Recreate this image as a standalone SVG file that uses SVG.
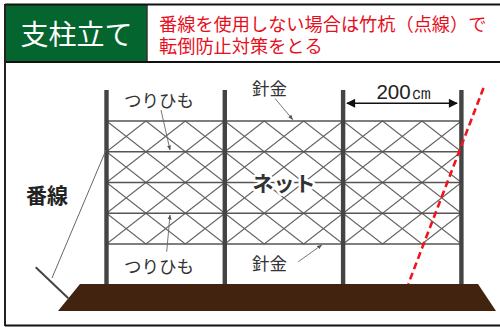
<svg xmlns="http://www.w3.org/2000/svg" width="500" height="327" viewBox="0 0 500 327">
  <style>
    .jp { font-family: "Noto Sans CJK JP", "Noto Sans", sans-serif; }
    .lbl { font-size: 17.5px; fill: #333; }
    .post { fill: #444; }
    .wire { stroke: #555; stroke-width: 1.3; fill: none; }
    .diag { stroke: #666; stroke-width: 1.1; fill: none; }
    .lead { stroke: #666; stroke-width: 0.9; fill: none; marker-end: url(#tip); }
  </style>
  <defs>
    <marker id="tip" viewBox="0 0 10 10" refX="9" refY="5" markerWidth="5" markerHeight="5" orient="auto" markerUnits="userSpaceOnUse">
      <path d="M0,1 L10,5 L0,9 z" fill="#555"/>
    </marker>
    <marker id="dimHead" viewBox="0 0 10 10" refX="9" refY="5" markerWidth="10" markerHeight="9" orient="auto-start-reverse" markerUnits="userSpaceOnUse">
      <path d="M0,0 L10,5 L0,10 z" fill="#111"/>
    </marker>
    <!-- one bay of netting: diamond mesh between two posts -->
    <path id="mesh" class="diag" d="M0,0 L118.3,92.25 M0,30.75 L118.3,123 M0,61.5 L78.87,123 M0,92.25 L39.43,123 M39.43,0 L118.3,61.5 M78.87,0 L118.3,30.75 M118.3,0 L0,92.25 M118.3,30.75 L0,123 M118.3,61.5 L39.43,123 M118.3,92.25 L78.87,123 M78.87,0 L0,61.5 M39.43,0 L0,30.75"/>
  </defs>

  <rect x="0" y="0" width="500" height="327" fill="#fff"/>

  <!-- outer frame and header -->
  <g id="header">
    <rect x="6" y="5" width="141" height="57" fill="#05652f"/>
    <line x1="147" y1="5" x2="147" y2="62" stroke="#333" stroke-width="1.5"/>
    <line x1="5" y1="4.5" x2="500" y2="4.5" stroke="#111" stroke-width="2"/>
    <line x1="5" y1="62" x2="500" y2="62" stroke="#111" stroke-width="2"/>
    <line x1="5" y1="4" x2="5" y2="326" stroke="#222" stroke-width="2"/>
    <line x1="5" y1="325.5" x2="500" y2="325.5" stroke="#111" stroke-width="2"/>
    <text class="jp" x="76.5" y="45" font-size="28" fill="#fff" text-anchor="middle">支柱立て</text>
    <text class="jp" font-size="18.2" fill="#e60f1e">
      <tspan x="159" y="31">番線を使用しない場合は竹杭（点線）で</tspan>
      <tspan x="159" y="53">転倒防止対策をとる</tspan>
    </text>
  </g>

  <!-- ground -->
  <g id="ground">
    <polygon points="80,284 478,284 496,311 58,311" fill="#42230f"/>
  </g>

  <!-- netting -->
  <g id="net">
    <use href="#mesh" x="106.5" y="121"/>
    <use href="#mesh" x="224.8" y="121"/>
    <use href="#mesh" x="343.1" y="121"/>
    <path class="wire" d="M106.5,121 H461.4 M106.5,151.75 H461.4 M106.5,182.5 H461.4 M106.5,213.25 H461.4 M106.5,244 H461.4"/>
  </g>

  <!-- posts -->
  <g id="posts">
    <rect class="post" x="104.3" y="90" width="4.4" height="194"/>
    <rect class="post" x="222.6" y="90" width="4.4" height="194"/>
    <rect class="post" x="340.9" y="90" width="4.4" height="194"/>
    <rect class="post" x="459.2" y="90" width="4.4" height="194"/>
  </g>

  <!-- guy wire and anchor stake -->
  <g id="guy">
    <line x1="106" y1="150" x2="52" y2="278" stroke="#666" stroke-width="1"/>
    <line x1="35.7" y1="267.3" x2="68.3" y2="298.3" stroke="#444" stroke-width="2"/>
    <text class="jp" x="26" y="203" font-size="21" font-weight="bold" fill="#222">番線</text>
  </g>

  <!-- bamboo stake alternative -->
  <g id="bamboo">
    <line x1="483.5" y1="88" x2="408.3" y2="284" stroke="#f0141e" stroke-width="2.6" stroke-dasharray="7,4"/>
  </g>

  <!-- span dimension -->
  <g id="span">
    <line x1="347" y1="103.3" x2="457" y2="103.3" stroke="#111" stroke-width="1.5" marker-start="url(#dimHead)" marker-end="url(#dimHead)"/>
    <text x="404" y="99" font-family="Liberation Sans, Arial, sans-serif" font-size="20.5" fill="#222" text-anchor="middle">200㎝</text>
  </g>

  <!-- labels and leaders -->
  <g id="connectors">
    <line class="lead" x1="161" y1="110" x2="170" y2="150"/>
    <line class="lead" x1="166.7" y1="251.7" x2="170" y2="215"/>
    <line class="lead" x1="275" y1="98.5" x2="292.7" y2="119.5"/>
    <line class="lead" x1="298.3" y1="261.7" x2="321.7" y2="245"/>
  </g>
  <g id="labels">
    <text class="jp lbl" x="124" y="106.5">つりひも</text>
    <text class="jp lbl" x="124" y="272.5">つりひも</text>
    <text class="jp lbl" x="252" y="94.5">針金</text>
    <text class="jp lbl" x="252" y="270">針金</text>
    <text class="jp" x="284" y="191" font-size="21" font-weight="bold" fill="#333" text-anchor="middle" stroke="#fff" stroke-width="5" paint-order="stroke" stroke-linejoin="round">ネット</text>
  </g>
</svg>
